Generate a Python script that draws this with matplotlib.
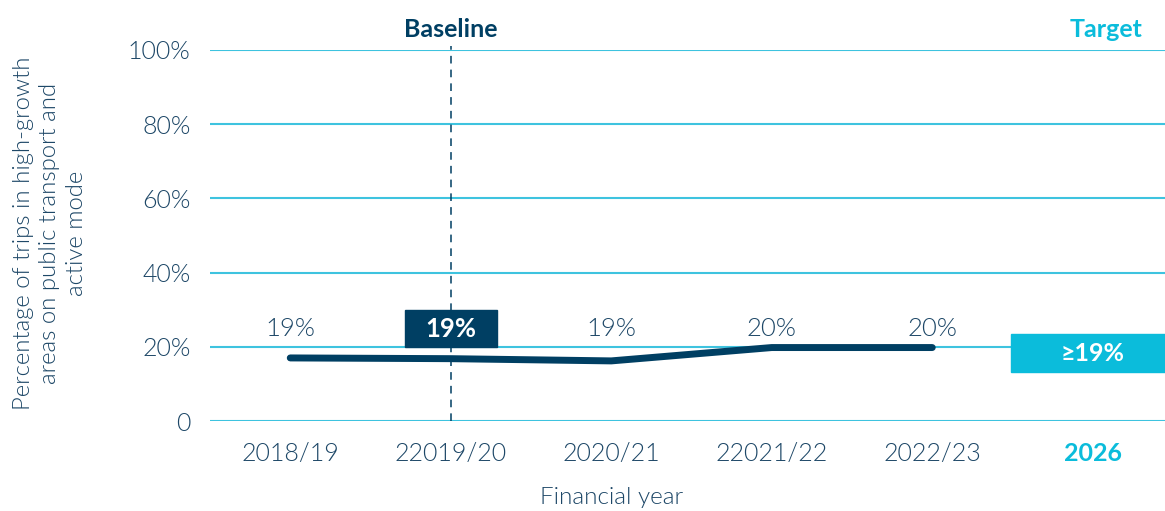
import matplotlib
matplotlib.use("Agg")
import matplotlib.pyplot as plt
from matplotlib.patches import Rectangle

# Data
categories = ["2018/19", "22019/20", "2020/21", "22021/22", "2022/23", "2026"]
line_values = [17.0, 16.8, 16.2, 19.8, 19.8]          # plotted line (%)
value_labels = ["19%", "19%", "19%", "20%", "20%"]     # printed labels
baseline_index = 1
target_value_low, target_value_high = 13.2, 23.4
target_label = "\u226519%"
y_ticks = [0, 20, 40, 60, 80, 100]
y_ticklabels = ["0", "20%", "40%", "60%", "80%", "100%"]

NAVY = "#003f63"
TEXT = "#1d4767"
CYAN = "#0bbcdb"
GRID = "#3ec3df"
LIGHT = 300

plt.rcParams['font.family'] = ['Lato', 'DejaVu Sans']

fig = plt.figure(figsize=(11.65, 5.11), dpi=100)
ax = fig.add_axes([210/1165, 1-421/511, 1-210/1165, (421-50)/511])
ax.set_xlim(-0.5, 5.45)
ax.set_ylim(0, 100)

for s in ax.spines.values():
    s.set_visible(False)
ax.tick_params(length=0)

for y in y_ticks:
    ax.axhline(y, color=GRID, lw=1.5, zorder=1)

ax.set_yticks(y_ticks)
ax.set_yticklabels(y_ticklabels, fontsize=18, color=TEXT, fontweight=LIGHT)
ax.tick_params(axis='y', pad=14)
ax.set_xticks(range(len(categories)))
ax.set_xticklabels(categories, fontsize=18, color=TEXT, fontweight=LIGHT)
ax.tick_params(axis='x', pad=15)
lbl = ax.get_xticklabels()[-1]
lbl.set_color(CYAN)
lbl.set_fontweight('bold')

# baseline dashed line
ax.plot([baseline_index, baseline_index], [0, 101], color=NAVY, lw=1.1,
        ls=(0, (5, 4)), clip_on=False, zorder=2)

# main line
xs = list(range(len(line_values)))
ax.plot(xs, line_values, color=NAVY, lw=5, solid_capstyle='round',
        solid_joinstyle='round', zorder=4)

# value labels
for i, t in enumerate(value_labels):
    if i == baseline_index:
        ax.add_patch(Rectangle((i - 0.285, 20), 0.57, 10, color=NAVY, zorder=3))
        ax.text(i, 24.8, t, ha='center', va='center', fontsize=18.5,
                fontweight='bold', color='white', zorder=5)
    else:
        ax.text(i, 24.8, t, ha='center', va='center', fontsize=18.5,
                color=TEXT, zorder=5, fontweight=LIGHT)

# target box
ti = len(categories) - 1
ax.add_patch(Rectangle((ti - 0.51, target_value_low), 0.96,
                       target_value_high - target_value_low, color=CYAN,
                       zorder=3, clip_on=False))
ax.text(ti, (target_value_low + target_value_high) / 2, target_label,
        ha='center', va='center', fontsize=18, fontweight='bold',
        color='white', zorder=5)

# headers
ax.text(baseline_index, 105.5, "Baseline", ha='center', va='center',
        fontsize=18, fontweight='bold', color=NAVY)
ax.text(ti + 0.08, 105.5, "Target", ha='center', va='center',
        fontsize=18, fontweight='bold', color=CYAN)

# axis labels
ax.text(2, -20.5, "Financial year", ha='center', va='center', fontsize=17.5,
        color=TEXT, fontweight=LIGHT)
fig.text(50/1165, 1-233/511,
         "Percentage of trips in high-growth\nareas on public transport and\nactive mode",
         rotation=90, ha='center', va='center', fontsize=17.2, color=TEXT,
         linespacing=1.3, fontweight=LIGHT)

fig.savefig("out.png", dpi=100)
